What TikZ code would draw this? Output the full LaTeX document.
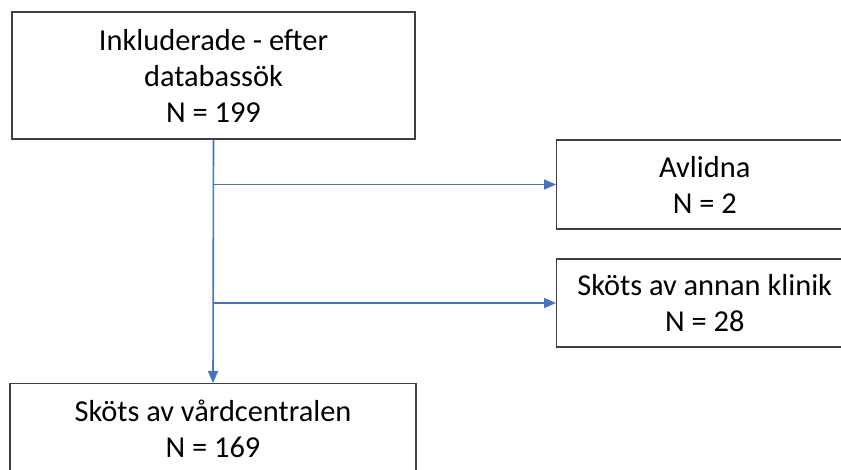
\documentclass[tikz,border=0pt]{standalone}
\usepackage{fontspec}
\setmainfont{Carlito}
\usepackage{tikz}
\usetikzlibrary{arrows.meta}

\definecolor{flowblue}{HTML}{4472C4}
\definecolor{boxgray}{HTML}{404040}

\tikzset{
  box/.style={draw=boxgray, line width=1.1pt, align=center, inner sep=0pt,
    font=\fontsize{22.8}{27}\selectfont},
  flow/.style={draw=flowblue, line width=1.2pt, -{Triangle[length=9pt,width=7.5pt]}}
}

\begin{document}
\begin{tikzpicture}[x=0.75pt,y=-0.75pt]
  \useasboundingbox (0,0) rectangle (841,470);

  \node [box, minimum width=302.25pt, minimum height=95.25pt] (incl) at (213.5,75.5)
    {Inkluderade - efter\\databassök\\N = 199};

  \node [box, anchor=west, minimum width=222pt, minimum height=66.75pt] (dead) at (556,184.5)
    {Avlidna\\N = 2};
  \node [box, anchor=west, minimum width=222pt, minimum height=66pt] (other) at (556,303)
    {Sköts av annan klinik\\N = 28};

  \node [box, anchor=north, minimum width=304.5pt, minimum height=67.5pt] (vc) at (213,383)
    {Sköts av vårdcentralen\\N = 169};

  \draw [flow] (incl.south) -- (vc.north);
  \draw [flow] (incl.south |- dead.west) -- (dead.west);
  \draw [flow] (incl.south |- other.west) -- (other.west);
\end{tikzpicture}
\end{document}
